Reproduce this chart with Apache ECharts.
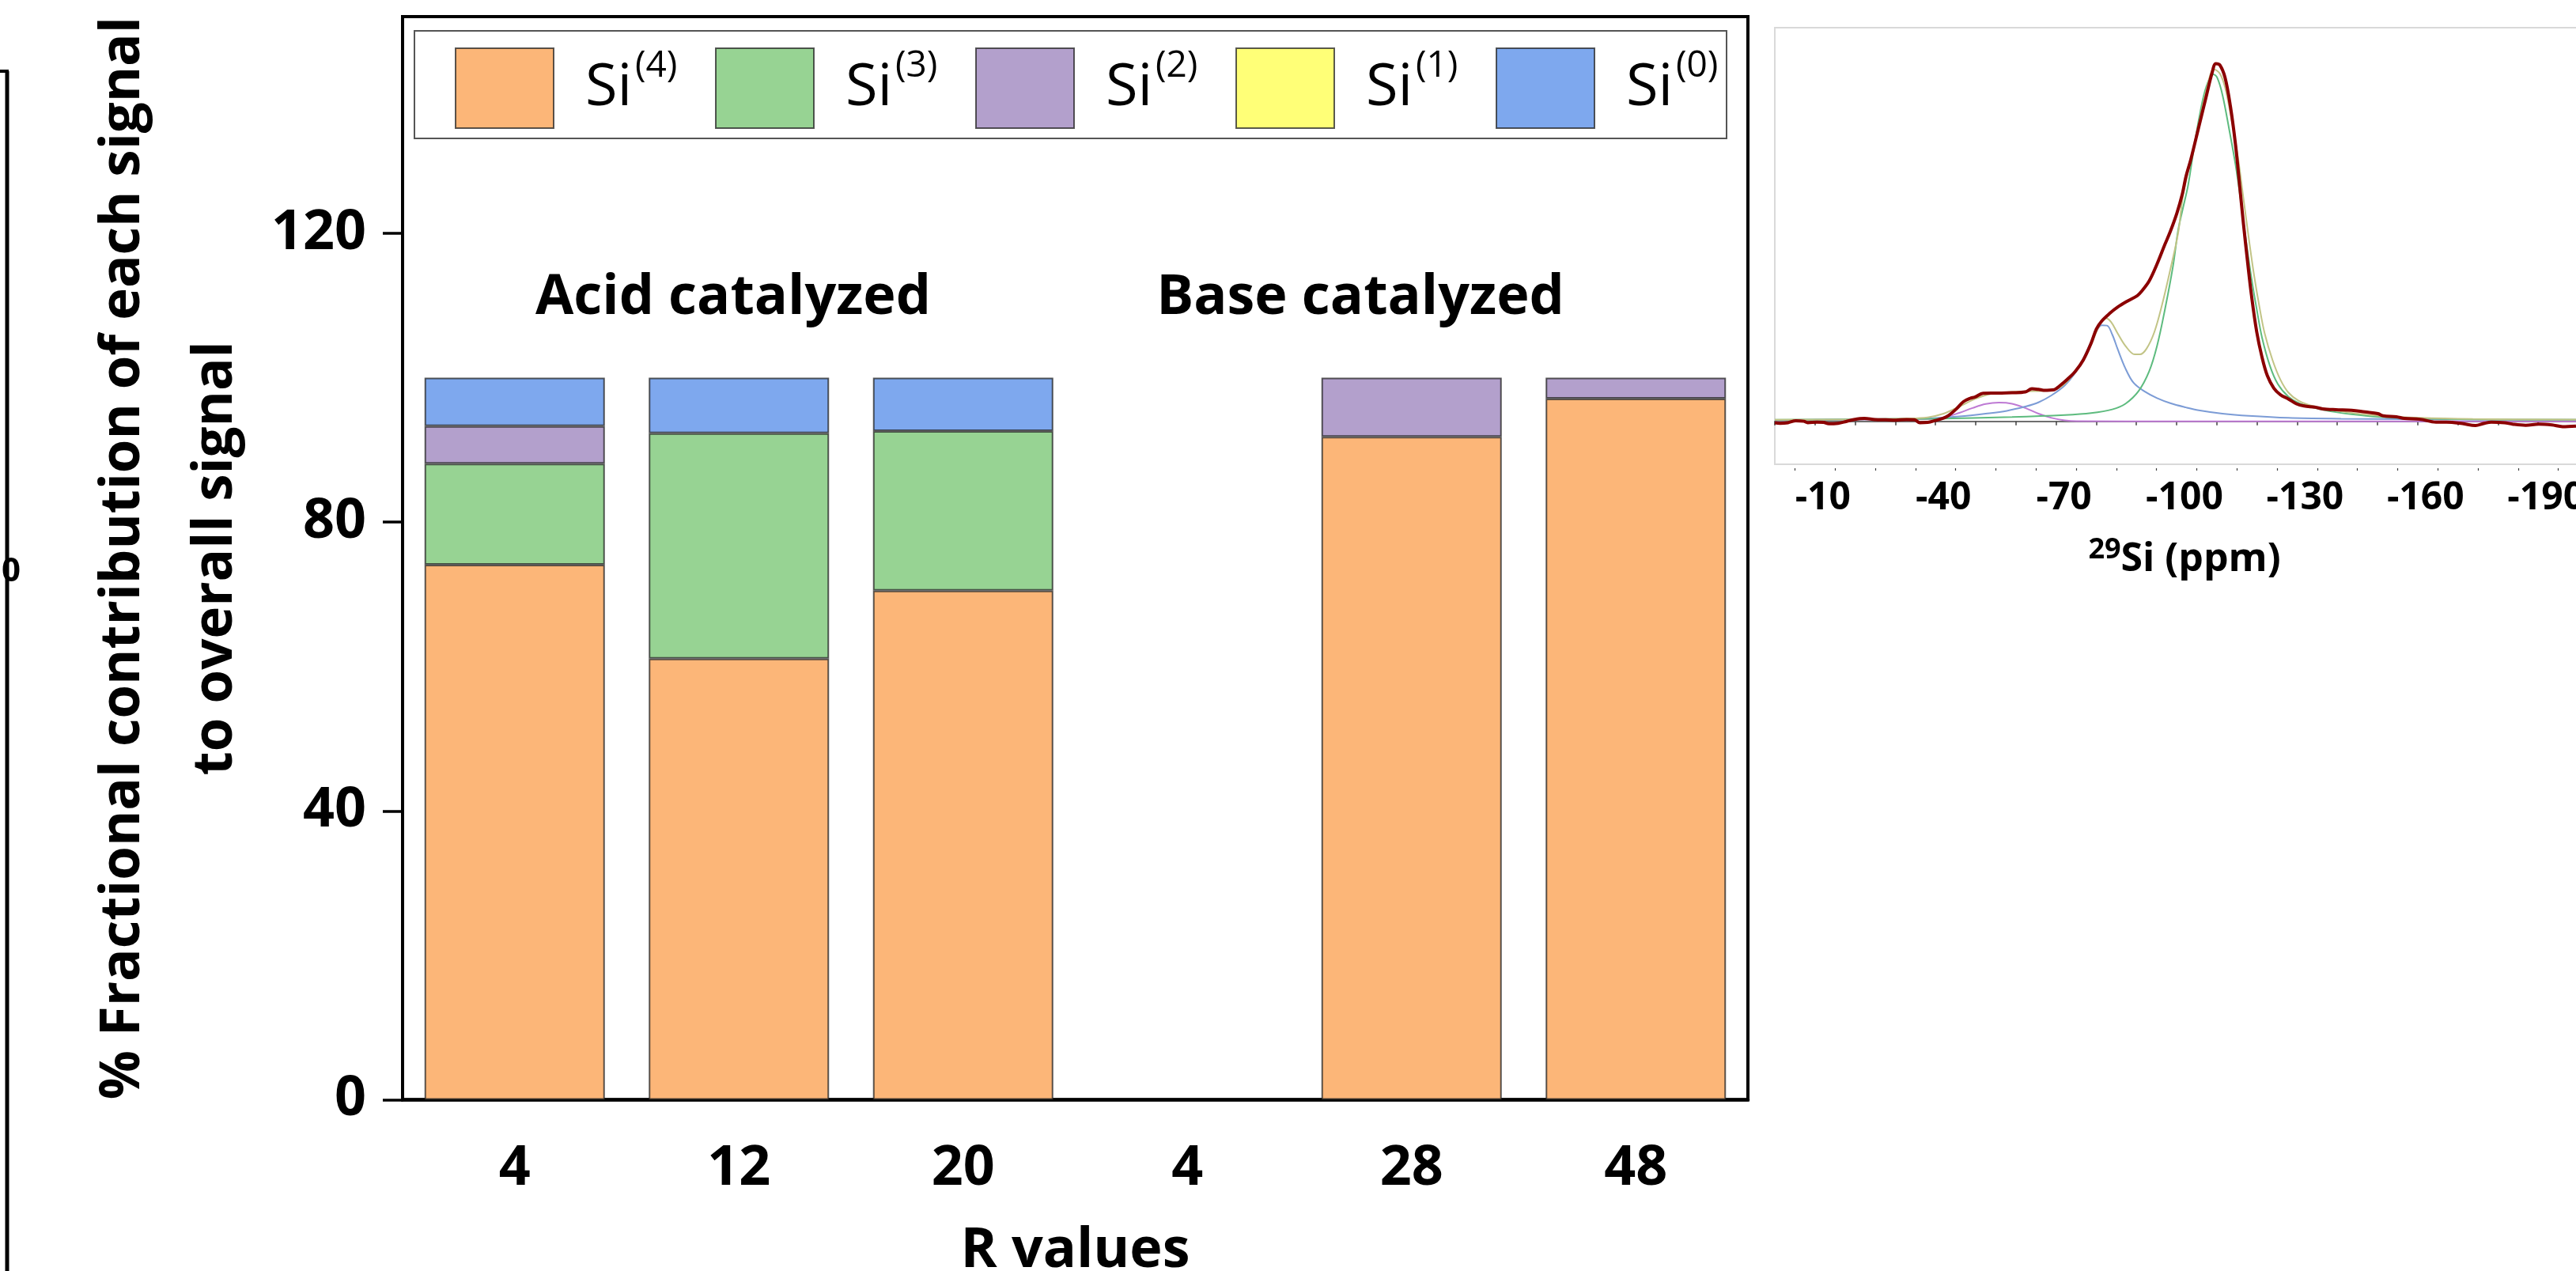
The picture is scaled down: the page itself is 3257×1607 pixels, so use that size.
<!DOCTYPE html>
<html>
<head>
<meta charset="utf-8">
<script src="https://cdn.jsdelivr.net/npm/echarts@6/dist/echarts.min.js"></script>
<style>
  html, body { margin: 0; padding: 0; background: #fff; overflow: hidden; }
  #chart { width: 3257px; height: 1607px; }
</style>
</head>
<body>
<div id="chart"></div>
<script>
// ---- stacked bar data: % fractional contribution of each Si environment ----
const rValues = ['4', '12', '20', '4', '28', '48'];
const si4 = [74.1, 61.1, 70.5, null, 91.8, 97.1];
const si3 = [14.0, 31.2, 22.1, null, null, null];
const si2 = [5.2, null, null, null, 8.2, 2.9];
const si1 = [null, null, null, null, null, null];
const si0 = [6.7, 7.7, 7.4, null, null, null];
const yTicks = [0, 40, 80, 120];

const seriesNames = ['Si(4)', 'Si(3)', 'Si(2)', 'Si(1)', 'Si(0)'];
const seriesSup = ['(4)', '(3)', '(2)', '(1)', '(0)'];
const seriesColors = ['#FCB678', '#97D393', '#B3A0CC', '#FFFF77', '#7EA8EE'];

// ---- 29Si NMR spectrum inset: [ppm, intensity] ----
const nmrMeasured = [
  [0, -0.38], [-1.31, -0.54], [-3.28, -0.38], [-5.25, 0.17], [-7.22, 0.02], [-8.2, -0.38],
  [-10.5, -0.22], [-12.14, -0.3], [-13.45, -0.69], [-15.75, -0.54], [-17.72, -0.06],
  [-19.69, 0.49], [-22.31, 0.8], [-24.93, 0.49], [-27.56, 0.41], [-30.18, 0.33],
  [-32.81, 0.49], [-34.78, 0.41], [-36.09, -0.38], [-38.06, -0.3], [-40.03, 0.25],
  [-41.99, 0.88], [-43.31, 1.67], [-45.28, 3.57], [-46.92, 5.46], [-48.56, 6.4],
  [-49.87, 6.8], [-51.84, 7.83], [-53.81, 7.9], [-56.43, 7.9], [-59.06, 7.98],
  [-62.34, 8.22], [-63.98, 9.09], [-65.62, 8.93], [-66.93, 8.69], [-69.55, 8.85],
  [-70.87, 9.88], [-72.83, 11.77], [-74.8, 13.98], [-76.77, 17.13], [-78.74, 21.87],
  [-80.05, 25.81], [-81.36, 28.02], [-83.33, 30.15], [-85.3, 31.89], [-87.93, 33.7],
  [-90.22, 35.12], [-91.21, 36.23], [-93.18, 39.22], [-95.14, 43.96], [-97.11, 49.48],
  [-98.43, 53.03], [-100.07, 58.16], [-101.38, 63.29], [-102.36, 68.5], [-103.54, 73.16],
  [-105.51, 82.22], [-107.48, 91.29], [-108.79, 97.21], [-109.77, 99.97], [-110.76, 99.58],
  [-112.07, 96.03], [-113.38, 88.14], [-114.69, 77.09], [-115.68, 66.05], [-116.66, 55.0],
  [-117.65, 44.75], [-118.63, 35.28], [-119.94, 25.02], [-121.26, 17.92], [-122.57, 12.8],
  [-124.21, 9.25], [-125.85, 7.43], [-127.82, 6.25], [-129.79, 4.91], [-131.75, 4.28],
  [-134.38, 3.96], [-136.35, 3.49], [-139.63, 3.25], [-143.57, 3.09], [-146.85, 2.62],
  [-150.13, 2.15], [-151.44, 1.52], [-154.72, 1.28], [-156.69, 0.8], [-160.63, 0.57],
  [-164.56, -0.22], [-167.19, -0.22], [-171.13, -0.62], [-174.41, -1.17], [-176.38, -0.62],
  [-178.34, -0.22], [-181.62, -0.38], [-183.59, -0.77], [-186.87, -1.09], [-190.15, -0.77],
  [-193.43, -1.01], [-196.06, -1.48], [-199.4, -1.33]
];
const nmrFitQ4 = [
  [0, 0.41], [-19.69, 0.57], [-39.37, 0.73], [-59.06, 1.2], [-72.18, 1.75], [-78.74, 2.3],
  [-83.99, 3.33], [-87.27, 4.91], [-90.55, 8.46], [-93.18, 13.98], [-95.14, 21.08],
  [-97.11, 31.33], [-99.08, 43.17], [-100.39, 53.42], [-101.57, 59.5], [-102.88, 66.05],
  [-104.2, 75.51], [-105.51, 84.19], [-106.82, 91.29], [-108.13, 95.63], [-109.12, 96.97],
  [-110.1, 96.03], [-111.41, 91.29], [-113.05, 81.82], [-114.69, 71.57], [-116.01, 61.31],
  [-117.32, 50.27], [-118.63, 40.01], [-119.94, 31.33], [-121.26, 23.44], [-123.22, 15.55],
  [-125.19, 10.43], [-127.82, 6.88], [-130.44, 5.07], [-134.38, 3.73], [-138.31, 2.78],
  [-143.57, 1.99], [-150.13, 1.28], [-157.35, 0.88], [-167.19, 0.65], [-180.31, 0.49],
  [-199.4, 0.41]
];
const nmrFitQ3 = [
  [0, 0.33], [-19.69, 0.57], [-32.81, 0.73], [-39.37, 0.88], [-45.93, 1.36], [-52.49, 2.15],
  [-57.74, 2.94], [-62.34, 4.12], [-65.62, 5.3], [-68.9, 7.28], [-72.18, 10.04],
  [-74.8, 13.59], [-76.77, 17.53], [-78.74, 22.26], [-80.38, 25.81], [-81.36, 26.84],
  [-82.68, 26.76], [-83.99, 24.24], [-85.3, 20.29], [-87.27, 14.77], [-89.24, 10.83],
  [-91.86, 8.46], [-95.14, 6.48], [-98.43, 5.07], [-102.36, 3.88], [-105.51, 3.09],
  [-111.41, 2.15], [-117.98, 1.52], [-127.82, 0.96], [-140.94, 0.73], [-160.63, 0.57],
  [-199.4, 0.41]
];
const nmrFitQ2 = [
  [0, 0.33], [-32.81, 0.57], [-39.37, 0.73], [-42.65, 1.2], [-45.93, 2.38], [-49.21, 3.72],
  [-52.49, 4.83], [-55.77, 5.22], [-59.06, 4.91], [-62.34, 3.72], [-65.62, 2.15],
  [-68.9, 0.96], [-72.18, 0.25], [-75.13, 0.02], [-100, 0], [-150, 0], [-200, 0]
];
const nmrFitSum = [
  [0, 0.41], [-19.69, 0.57], [-32.81, 0.8], [-38.06, 1.12], [-41.99, 2.15], [-45.93, 4.12],
  [-49.87, 6.25], [-53.81, 7.67], [-57.74, 8.14], [-62.34, 8.38], [-68.24, 8.62],
  [-70.87, 9.4], [-73.49, 12.01], [-76.12, 15.96], [-78.74, 21.48], [-80.71, 26.61],
  [-82.35, 28.81], [-83.66, 27.79], [-85.3, 24.64], [-87.27, 21.08], [-89.57, 18.71],
  [-90.88, 18.71], [-92.52, 20.29], [-94.49, 25.02], [-96.46, 32.91], [-98.43, 42.38],
  [-100.39, 52.63], [-101.57, 62.88], [-103.54, 73.16], [-105.51, 83.01], [-107.48, 92.87],
  [-109.31, 98.39], [-110.76, 97.21], [-112.07, 93.26], [-113.71, 84.19], [-115.35, 73.16],
  [-116.66, 62.11], [-117.98, 51.06], [-119.29, 40.8], [-120.6, 32.13], [-121.91, 24.64],
  [-123.88, 17.13], [-125.85, 11.61], [-127.82, 8.06], [-130.44, 5.7], [-134.38, 4.12],
  [-140.94, 2.78], [-150.13, 1.59], [-160.63, 0.96], [-173.75, 0.65], [-199.4, 0.49]
];
const ppmLabels = [-10, -40, -70, -100, -130, -160, -190];
const ppmMajorTicks = [0, -10, -20, -30, -40, -50, -60, -70, -80, -90, -100, -110, -120, -130, -140, -150, -160, -170, -180, -190, -200];
const ppmMinorTicks = [-5, -15, -25, -35, -45, -55, -65, -75, -85, -95, -105, -115, -125, -135, -145, -155, -165, -175, -185, -195];

const FONT = 'Open Sans';
const chart = echarts.init(document.getElementById('chart'), null, { renderer: 'canvas', width: 3257, height: 1607 });

const barData = [si4, si3, si2, si1, si0];
const barSeries = barData.map((vals, i) => ({
  name: seriesNames[i],
  type: 'bar',
  stack: 'total',
  xAxisIndex: 0,
  yAxisIndex: 0,
  barWidth: 228,
  data: vals,
  itemStyle: { color: seriesColors[i], borderColor: 'rgba(35,35,35,0.75)', borderWidth: 2 }
}));

function nmrLine(name, data, color, width, z) {
  return {
    name: name, type: 'line', xAxisIndex: 1, yAxisIndex: 1, data: data,
    showSymbol: false, smooth: 0.35, silent: true, z: z,
    lineStyle: { color: color, width: width }
  };
}

const option = {
  animation: false,
  backgroundColor: '#ffffff',
  grid: [
    { left: 509, top: 21, width: 1701, height: 1369.5, show: true, borderColor: '#000', borderWidth: 4, outerBoundsMode: 'none' },
    { left: 2244, top: 35, width: 1016, height: 552, show: true, borderColor: '#d9d9d9', borderWidth: 2, outerBoundsMode: 'none' }
  ],
  legend: {
    data: seriesNames,
    left: 524, top: 39,
    orient: 'horizontal',
    padding: [21, 4, 12, 51],
    borderColor: '#555', borderWidth: 2,
    itemWidth: 124, itemHeight: 101, itemGap: 41,
    selectedMode: false,
    icon: 'rect',
    formatter: (name) => '{b|Si}{s|' + seriesSup[seriesNames.indexOf(name)] + '}',
    textStyle: {
      padding: [0, 0, 0, 35],
      rich: {
        b: { fontFamily: FONT, fontSize: 74, color: '#000', lineHeight: 101, width: 63 },
        s: { fontFamily: FONT, fontSize: 46, color: '#000', lineHeight: 60, verticalAlign: 'top', width: 60 }
      }
    }
  },
  xAxis: [
    {
      type: 'category', gridIndex: 0, data: rValues,
      axisLine: { lineStyle: { color: '#000', width: 4.5 } },
      axisTick: { alignWithLabel: true, length: 27, lineStyle: { color: '#000', width: 3.5 } },
      axisLabel: { margin: 53, fontFamily: FONT, fontSize: 70, fontWeight: 'bold', color: '#000' },
      splitLine: { show: false },
      name: 'R values', nameLocation: 'middle', nameGap: 157,
      nameTextStyle: { fontFamily: FONT, fontSize: 70, fontWeight: 'bold', color: '#000' }
    },
    {
      type: 'value', gridIndex: 1, min: -200, max: 0, inverse: true, position: 'bottom', offset: 5,
      axisLine: { lineStyle: { color: '#404040', width: 1.5 } },
      axisTick: { customValues: ppmMajorTicks, length: 5, lineStyle: { color: '#404040', width: 1.5 } },
      axisLabel: { customValues: ppmLabels, margin: 14, padding: [0, 0, 0, 20], fontFamily: FONT, fontSize: 48, fontWeight: 'bold', color: '#000' },
      splitLine: { show: false },
      name: '{sup|29}{t|Si (ppm)}', nameLocation: 'middle', nameGap: 86,
      nameTextStyle: {
        padding: [0, 0, 0, 20],
        rich: {
          sup: { fontFamily: FONT, fontSize: 36, fontWeight: 'bold', color: '#000', verticalAlign: 'top', lineHeight: 42 },
          t: { fontFamily: FONT, fontSize: 50, fontWeight: 'bold', color: '#000', lineHeight: 60 }
        }
      }
    },
    {
      type: 'value', gridIndex: 1, min: -200, max: 0, inverse: true, position: 'bottom', offset: 5,
      axisLine: { show: false },
      axisTick: { customValues: ppmMinorTicks, length: 3, lineStyle: { color: '#404040', width: 1.2 } },
      axisLabel: { show: false },
      splitLine: { show: false }
    }
  ],
  yAxis: [
    {
      type: 'value', gridIndex: 0, min: 0, max: 150,
      axisLine: { show: true, lineStyle: { color: '#000', width: 4 } },
      axisTick: { show: true, customValues: yTicks, length: 25, lineStyle: { color: '#000', width: 3.5 } },
      axisLabel: { customValues: yTicks, margin: 46, fontFamily: FONT, fontSize: 70, fontWeight: 'bold', color: '#000' },
      splitLine: { show: false },
      name: '% Fractional contribution of each signal\nto overall signal',
      nameLocation: 'middle', nameRotate: 90, nameGap: 175,
      nameTextStyle: { fontFamily: FONT, fontSize: 69, fontWeight: 'bold', color: '#000', lineHeight: 117 }
    },
    { type: 'value', gridIndex: 1, min: -12, max: 110, show: false, splitLine: { show: false } }
  ],
  series: barSeries.concat([
    nmrLine('Q2 fit', nmrFitQ2, '#BE7AD4', 2, 3),
    nmrLine('Q3 fit', nmrFitQ3, '#7C9CD6', 2, 3),
    nmrLine('Q4 fit', nmrFitQ4, '#5DBB7E', 2, 4),
    nmrLine('Fit sum', nmrFitSum, '#C2C486', 2, 5),
    nmrLine('Measured', nmrMeasured, '#8B0000', 4, 6)
  ]),
  graphic: [
    { type: 'text', x: 927, y: 377, style: { text: 'Acid catalyzed', align: 'center', verticalAlign: 'middle', fontFamily: FONT, fontSize: 70, fontWeight: 'bold', fill: '#000' } },
    { type: 'text', x: 1720, y: 377, style: { text: 'Base catalyzed', align: 'center', verticalAlign: 'middle', fontFamily: FONT, fontSize: 70, fontWeight: 'bold', fill: '#000' } },
    // frame corner of the adjacent panel on the left
    { type: 'line', shape: { x1: 9, y1: 90, x2: 9, y2: 1607 }, style: { stroke: '#000', lineWidth: 5 } },
    { type: 'line', shape: { x1: 0, y1: 90, x2: 11, y2: 90 }, style: { stroke: '#000', lineWidth: 4 } },
    { type: 'text', x: 14, y: 723, style: { text: '0', align: 'center', verticalAlign: 'middle', fontFamily: FONT, fontSize: 42, fontWeight: 'bold', fill: '#000' } }
  ]
};
chart.setOption(option);
</script>
</body>
</html>
